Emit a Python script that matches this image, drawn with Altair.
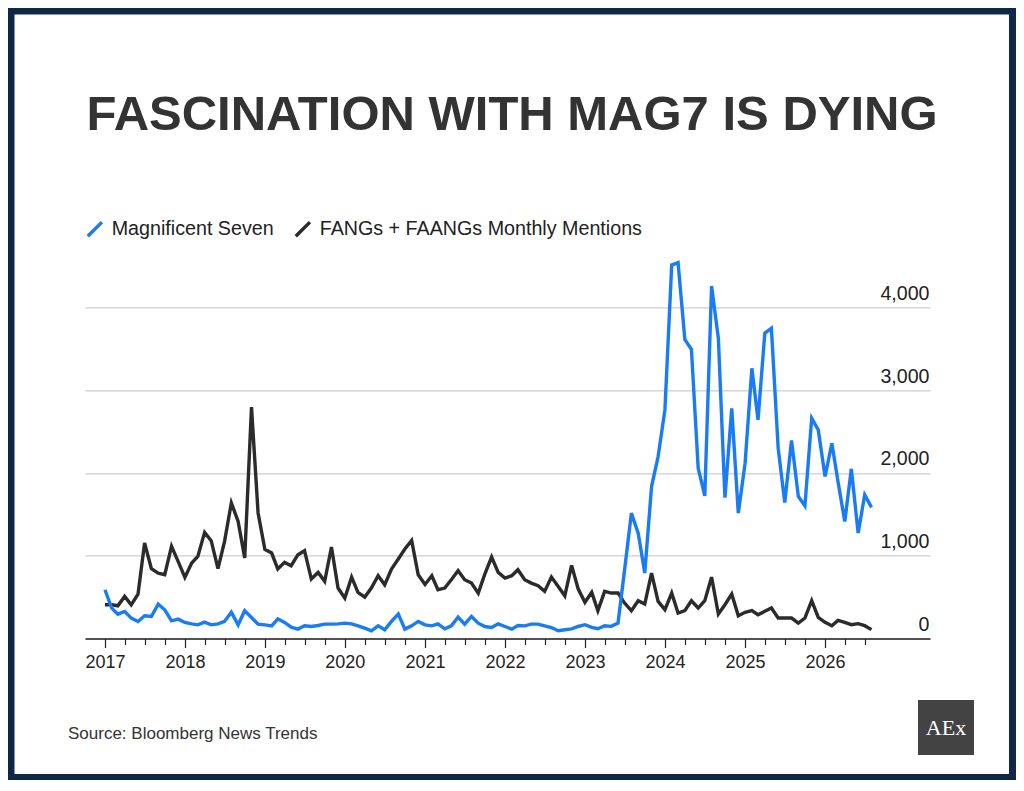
import altair as alt
import pandas as pd

# ---------------- data ----------------
series_names = ["Magnificent Seven", "FANGs + FAANGs Monthly Mentions"]
series_colors = ["#1a7cf5", "#2b2b2b"]

mag7 = [589, 367, 294, 327, 246, 206, 274, 266, 415, 347, 214, 234,
        194, 177, 165, 198, 165, 177, 206, 319, 165, 335, 254, 173,
        165, 153, 238, 194, 137, 113, 153, 145, 157, 173, 173, 177,
        185, 177, 153, 125, 93, 153, 105, 206, 294, 113, 153, 206,
        165, 153, 177, 117, 153, 258, 173, 266, 185, 145, 133, 177,
        145, 113, 157, 153, 173, 173, 153, 133, 93, 105, 117, 145,
        167, 134, 118, 154, 147, 187, 830, 1514, 1273, 790, 1835, 2197,
        2760, 4510, 4538, 3612, 3492, 2056, 1723, 4256, 3625, 1700, 2780, 1514,
        2117, 3263, 2640, 3686, 3746, 2298, 1643, 2391, 1715, 1602, 2660, 2519,
        1956, 2358, 1896, 1413, 2049, 1273, 1735, 1583]

fang = [407, 407, 395, 508, 407, 536, 1153, 843, 790, 770, 1113, 931,
        738, 911, 992, 1282, 1181, 843, 1173, 1637, 1415, 972, 2794, 1516,
        1077, 1032, 839, 919, 879, 1012, 1060, 718, 798, 690, 1105, 609,
        488, 742, 556, 500, 609, 758, 649, 839, 960, 1081, 1185, 770,
        653, 758, 589, 609, 710, 819, 710, 669, 548, 778, 984, 798,
        730, 758, 831, 710, 669, 637, 569, 742, 629, 516, 883, 600,
        437, 557, 336, 569, 549, 549, 428, 336, 456, 416, 790, 448,
        348, 549, 308, 336, 456, 368, 456, 741, 295, 408, 537, 275,
        316, 336, 287, 328, 368, 247, 247, 247, 187, 247, 456, 255,
        195, 155, 219, 195, 167, 179, 155, 107]

first_month = "2017-01-01"
y_tick_values = [0, 1000, 2000, 3000, 4000]

title_text = "FASCINATION WITH MAG7 IS DYING"
source_text = "Source: Bloomberg News Trends"
logo_text = "AEx"

navy = "#0f2847"

# ---------------- table ----------------
months = pd.date_range(first_month, periods=len(mag7), freq="MS")
dates = [d.strftime("%Y-%m-%dT00:00:00") for d in months]
df = pd.DataFrame({
    "date": dates + dates,
    "value": mag7 + fang,
    "series": [series_names[0]] * len(mag7) + [series_names[1]] * len(fang),
})

# quarterly tick positions (years labelled)
x_ticks = [alt.DateTime(year=y, month=m, date=1)
           for y in range(2017, 2027) for m in (1, 4, 7, 10)
           if not (y == 2026 and m == 10)]

W, H = 845, 389.2

x_enc = alt.X(
    "date:T",
    scale=alt.Scale(domain=[alt.DateTime(year=2016, month=10, date=2),
                            alt.DateTime(year=2027, month=4, date=25)]),
    axis=alt.Axis(
        title=None, values=x_ticks, grid=False,
        labelExpr="month(datum.value) == 0 ? timeFormat(datum.value, '%Y') : ''",
        tickSize={"condition": {"test": "month(datum.value) == 0", "value": 9}, "value": 6},
        tickColor="#222", tickWidth=1.2,
        domainColor="#222", domainWidth=1.6,
        labelFont="Liberation Sans", labelFontSize=18, labelColor="#222",
        labelPadding=6, labelOverlap=False, labelFlush=False, zindex=1,
    ),
)

y_enc = alt.Y(
    "value:Q",
    scale=alt.Scale(domain=[0, 4700], nice=False),
    axis=alt.Axis(
        title=None, orient="right", values=y_tick_values, format=",.0f",
        domain=False, ticks=False, tickSize=0,
        grid=True, gridColor="#cdcdcd", gridWidth=1.3,
        labelAlign="right", labelBaseline="alphabetic", labelOffset=-8,
        labelPadding=-1, labelFont="Liberation Sans", labelFontSize=19.6,
        labelColor="#222",
    ),
)

color_enc = alt.Color(
    "series:N",
    scale=alt.Scale(domain=series_names, range=series_colors),
    legend=alt.Legend(
        title=None, orient="none", legendX=0, legendY=-30, direction="horizontal",
        symbolType="M-1,1L1,-1", symbolSize=200, symbolStrokeWidth=3.5,
        labelFont="Liberation Sans", labelFontSize=19.7, labelColor="#222",
        labelOffset=7, labelLimit=500, columnPadding=14, padding=0,
    ),
)

base = alt.Chart(df).encode(x=x_enc, y=y_enc, color=color_enc)

black_line = base.transform_filter(
    alt.datum.series == series_names[1]).mark_line(strokeWidth=3.4)
blue_line = base.transform_filter(
    alt.datum.series == series_names[0]).mark_line(strokeWidth=3.4)

one = alt.Data(values=[{"k": 0}])

title = alt.Chart(one).mark_text(
    text=title_text, font="Liberation Sans", fontWeight="bold",
    fontSize=49, color="#333333", align="center", baseline="alphabetic",
).encode(x=alt.value(427), y=alt.value(-119))

source = alt.Chart(one).mark_text(
    text=source_text, font="Liberation Sans", fontSize=17, color="#333333",
    align="left", baseline="alphabetic",
).encode(x=alt.value(-17), y=alt.value(489.7))

logo_box = alt.Chart(one).mark_rect(color="#434343").encode(
    x=alt.value(833), x2=alt.value(889), y=alt.value(450.7), y2=alt.value(505.7))

logo = alt.Chart(one).mark_text(
    text=logo_text, font="Liberation Serif", fontSize=22, color="#ffffff",
    align="center", baseline="middle",
).encode(x=alt.value(861), y=alt.value(478.7))

frame = alt.Chart(one).mark_rect(filled=False, stroke=navy, strokeWidth=7).encode(
    x=alt.value(-74), x2=alt.value(927.5), y=alt.value(-238.3), y2=alt.value(528.2))

chart = alt.layer(
    black_line, blue_line, title, source, logo_box, logo, frame
).properties(
    width=W, height=H,
    background="#ffffff",
    autosize=alt.AutoSizeParams(type="none"),
    padding={"left": 77, "top": 241.3, "right": 86, "bottom": 141.5},
).configure_view(stroke=None)

chart.save("out.html", embed_options={"renderer": "svg", "actions": False})
